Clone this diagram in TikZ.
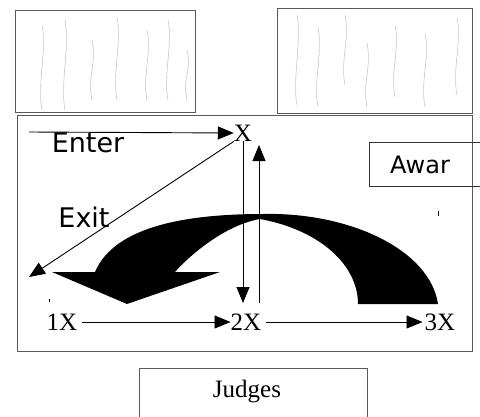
\documentclass[tikz,border=0pt]{standalone}
\usepackage{fontspec}
\setmainfont{Liberation Serif}
\newfontfamily\labelsans{DejaVu Sans}
\usetikzlibrary{arrows.meta,positioning}

\tikzset{
  frame/.style={draw=black!65, line width=1.2pt},
  hair/.style={draw=black!22, line width=0.6pt},
  flow/.style={-{Triangle[length=16pt,width=13pt]}, line width=0.9pt},
  serifx/.style={font=\fontsize{25}{25}\selectfont, inner sep=0pt},
  sanslbl/.style={font=\labelsans\fontsize{27}{27}\selectfont, inner sep=0pt},
}

\begin{document}
\begin{tikzpicture}[x=1pt, y=-1pt]
  \useasboundingbox (0,0) rectangle (480,416);

  % sketch panels
  \node[frame, minimum width=180pt, minimum height=102pt, anchor=north west] (leftpanel) at (15,10) {};
  \node[frame, minimum width=195pt, minimum height=105pt, anchor=north west] (rightpanel) at (277,8) {};
  \foreach \x/\ya/\yb in {42/25/110, 65/20/110, 92/40/100, 117/17/100, 147/30/100, 168/20/100, 187/50/100,
                          297/15/105, 318/27/107, 345/15/85, 367/43/107, 395/25/97, 425/33/107, 457/17/95}
    \draw[hair] (\x,\ya) .. controls (\x+5,\ya+25) and (\x-5,\yb-25) .. (\x,\yb);

  % main panel
  \node[frame, minimum width=455pt, minimum height=236pt, anchor=north west] (mainpanel) at (17,115) {};

  % big curved arrow
  \fill (52,272) -- (95,272) .. controls (115,225) and (190,214) .. (263,214)
        .. controls (350,212) and (430,250) .. (438,304) -- (358,304)
        .. controls (358,265) and (320,230) .. (260,219)
        .. controls (225,225) and (190,255) .. (175,272) -- (220,272) -- (127,304) -- cycle;

  % labels
  \node[serifx] (topx) at (243,133) {X};
  \node[serifx] (onex) at (62,322) {1X};
  \node[serifx] (twox) at (246,322) {2X};
  \node[serifx] (threex) at (440,322) {3X};
  \node[sanslbl] (enter) at (88,143) {Enter};
  \node[sanslbl] (exit) at (84,217) {Exit};

  \node[draw=black!80, line width=1pt, minimum width=113pt, minimum height=44pt, anchor=north west] (awarbox) at (369,142) {};
  \node[sanslbl, font=\labelsans\fontsize{24}{24}\selectfont, right=21pt of awarbox.west] (awar) {Awar};

  \node[frame, minimum width=228pt, minimum height=56pt, anchor=north west] (judgesbox) at (139,368) {};
  \node[font=\fontsize{25}{25}\selectfont, inner sep=0pt] (judges) at (247,392) {Judges};

  % connectors
  \coordinate (enterstart) at (29,132);
  \coordinate (exitend) at (29,277);
  \coordinate (downend) at (243,303);
  \coordinate (upstart) at (259,303);
  \coordinate (upend) at (259,145);

  \draw[flow] (enterstart) -- (topx.west);
  \draw[flow] (topx.south west) -- (exitend);
  \draw[flow] (topx.south) -- (downend);
  \draw[flow] (upstart) -- (upend);
  \draw[flow, shorten <=5pt] (onex) -- (twox);
  \draw[flow, shorten <=5pt, shorten >=2pt] (twox) -- (threex);

  % stray marks
  \draw[line width=0.8pt] (438,211) -- (438,216);
  \draw[line width=0.8pt] (49,299) -- (49,302);
\end{tikzpicture}
\end{document}
